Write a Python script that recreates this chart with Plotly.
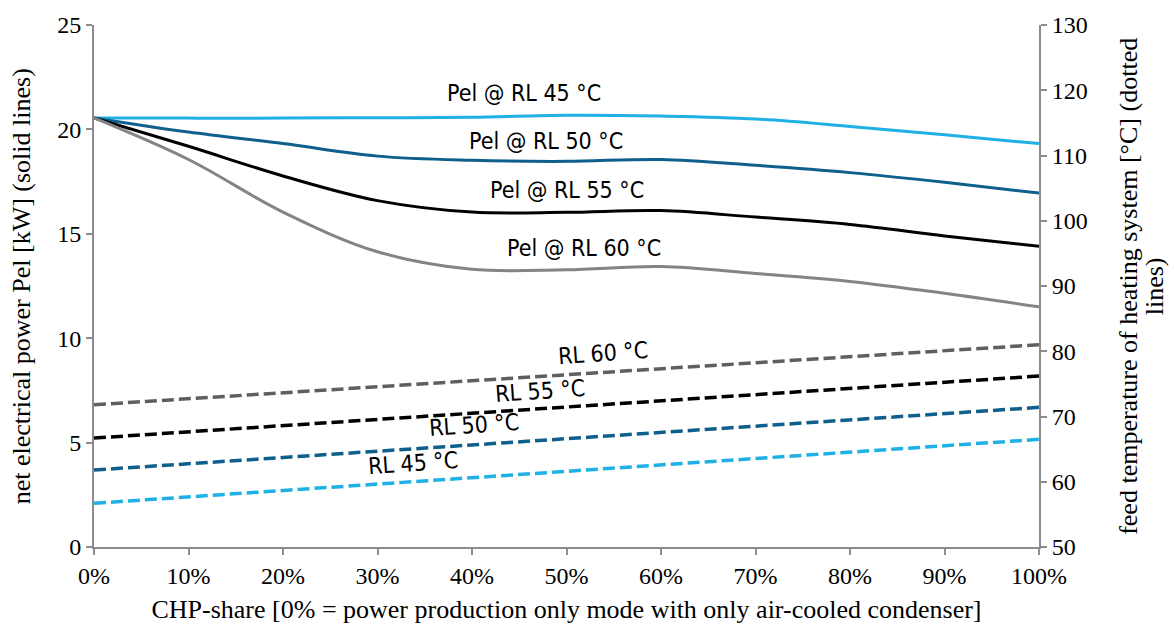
import plotly.graph_objects as go

# CHP share (fraction of heat demand covered in CHP mode)
chp_share = [0.0, 0.1, 0.2, 0.3, 0.4, 0.5, 0.6, 0.7, 0.8, 0.9, 1.0]

# net electrical power Pel [kW] per return temperature (left axis, solid)
pel_rl45 = [20.55, 20.54, 20.54, 20.56, 20.58, 20.68, 20.64, 20.50, 20.14, 19.74, 19.32]
pel_rl50 = [20.55, 19.87, 19.32, 18.72, 18.52, 18.47, 18.56, 18.28, 17.93, 17.47, 16.95]
pel_rl55 = [20.55, 19.19, 17.77, 16.59, 16.04, 16.03, 16.11, 15.80, 15.45, 14.90, 14.40]
pel_rl60 = [20.55, 18.56, 16.04, 14.14, 13.30, 13.28, 13.43, 13.10, 12.72, 12.15, 11.50]

# feed temperature of heating system [°C] (right axis, dashed)
feed_share = [0.0, 1.0]
feed_rl45 = [56.7, 66.5]
feed_rl50 = [61.8, 71.4]
feed_rl55 = [66.7, 76.2]
feed_rl60 = [71.8, 81.0]

c45 = "#1fb1e6"
c50 = "#0e5f8c"
c55 = "#000000"
c60 = "#848484"
c60_dash = "#5f5f5f"

fig = go.Figure()

for ys, col in [(pel_rl45, c45), (pel_rl50, c50), (pel_rl55, c55), (pel_rl60, c60)]:
    fig.add_trace(go.Scatter(x=chp_share, y=ys, mode="lines",
                             line=dict(color=col, width=3, shape="spline"),
                             showlegend=False, hoverinfo="skip"))

for ys, col in [(feed_rl60, c60_dash), (feed_rl55, c55), (feed_rl50, c50), (feed_rl45, c45)]:
    fig.add_trace(go.Scatter(x=feed_share, y=ys, mode="lines", yaxis="y2",
                             line=dict(color=col, width=3.5, dash="12px,5px"),
                             showlegend=False, hoverinfo="skip"))

label_font = dict(family="DejaVu Sans Condensed, Liberation Sans Narrow, sans-serif",
                  size=23, color="#000000")

# curve labels
for txt, x, y in [("Pel @ RL 45 °C", 0.455, 21.75),
                  ("Pel @ RL 50 °C", 0.478, 19.45),
                  ("Pel @ RL 55 °C", 0.501, 17.1),
                  ("Pel @ RL 60 °C", 0.519, 14.3)]:
    fig.add_annotation(x=x, y=y, xref="x", yref="y", text=txt, showarrow=False,
                       font=label_font)

for txt, x, y in [("RL 60 °C", 0.539, 9.28),
                  ("RL 55 °C", 0.472, 7.48),
                  ("RL 50 °C", 0.402, 5.82),
                  ("RL 45 °C", 0.338, 4.02)]:
    fig.add_annotation(x=x, y=y, xref="x", yref="y", text=txt, showarrow=False,
                       font=label_font, textangle=-4)

tick_font = dict(family="Liberation Serif, Times New Roman, serif", size=24, color="#000000")
title_font = dict(family="Liberation Serif, Times New Roman, serif", size=26, color="#000000")
axis_common = dict(showline=True, linecolor="#8c8c8c", linewidth=2, ticks="outside",
                   ticklen=6, tickcolor="#8c8c8c", tickwidth=2, showgrid=False,
                   zeroline=False, tickfont=tick_font)

# vertical axis titles
for txt, x in [("net electrical power Pel [kW] (solid lines)", -0.077),
               ("feed temperature of heating system [°C] (dotted", 1.094),
               ("lines)", 1.122)]:
    fig.add_annotation(x=x, y=0.5, xref="paper", yref="paper", textangle=-90,
                       xanchor="center", yanchor="middle", text=txt, showarrow=False,
                       font=title_font)

fig.update_layout(
    width=1174, height=633,
    margin=dict(l=94, r=135, t=19, b=86),
    paper_bgcolor="white", plot_bgcolor="white",
    xaxis=dict(range=[0, 1], dtick=0.1, tickformat=".0%",
               title=dict(text="CHP-share [0% = power production only mode with only air-cooled condenser]",
                          font=title_font, standoff=12),
               **axis_common),
    yaxis=dict(range=[0, 25], dtick=5, **axis_common),
    yaxis2=dict(range=[50, 130], dtick=10, overlaying="y", side="right", **axis_common),
)

fig.write_html("out.html")
